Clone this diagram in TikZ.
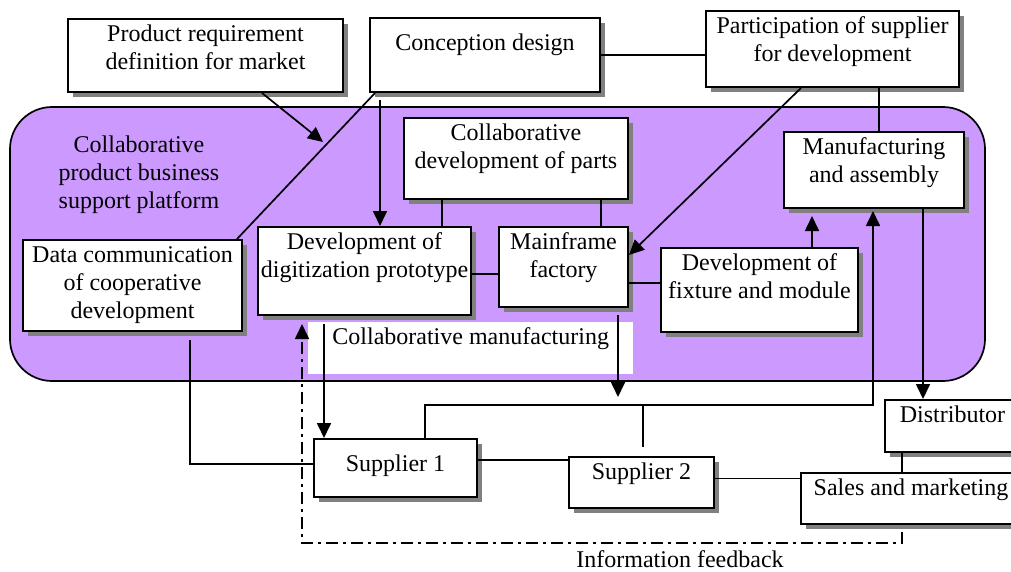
\documentclass[tikz,border=0pt]{standalone}
\usepackage{fontspec}
\setmainfont{Liberation Serif}
\usetikzlibrary{arrows.meta,shadows}
\definecolor{platform}{HTML}{CC99FF}
\newcommand{\boxtxt}[4][2.5pt]{\parbox[c][#3][t]{#2}{\centering\vspace*{#1}\strut#4}}

\begin{document}
\begin{tikzpicture}[x=1pt,y=-1pt,
  every node/.style={font=\fontsize{24}{28}\selectfont},
  box/.style={draw,fill=white,line width=2pt,inner sep=0pt,anchor=north west,
    drop shadow={shadow xshift=5pt,shadow yshift=-5pt,fill=gray,opacity=1}},
  line/.style={line width=1.7pt},
  arr/.style={line width=1.7pt,-{Triangle[length=15pt,width=14pt]}},
  feedback/.style={line width=1.7pt,dash pattern=on 12pt off 5pt on 3pt off 5pt}]
\useasboundingbox (0,0) rectangle (1011,571);

% platform
\draw[line width=1.7pt,fill=platform,rounded corners=42pt] (10,107) rectangle (985,381);
\node[align=center] (platlabel) at (139,175) {Collaborative\\product business\\support platform};
\node[fill=white,inner sep=0pt,anchor=north west] (collmanu) at (308,322) {\boxtxt{325pt}{52pt}{Collaborative manufacturing}};

% boxes
\node[box] (preq) at (67,18) {\boxtxt{275pt}{73pt}{Product requirement\\definition for market}};
\node[box] (concept) at (369,17) {\boxtxt[12.5pt]{230pt}{74pt}{Conception design}};
\node[box] (partic) at (705,10) {\boxtxt{253pt}{76pt}{Participation of supplier\\for development}};
\node[box] (datacomm) at (22,239) {\boxtxt{219pt}{91pt}{Data communication\\of cooperative\\development}};
\node[box] (devproto) at (257,226) {\boxtxt{213pt}{88pt}{Development of\\digitization prototype}};
\node[box] (collparts) at (403,117) {\boxtxt{224pt}{81pt}{Collaborative\\development of parts}};
\node[box] (mainframe) at (498,226) {\boxtxt{129pt}{80pt}{Mainframe\\factory}};
\node[box] (fixture) at (660,247) {\boxtxt{197pt}{84pt}{Development of\\fixture and module}};
\node[box] (manuf) at (783,131) {\boxtxt{180pt}{76pt}{Manufacturing\\and assembly}};
\node[box] (sup1) at (313,438) {\boxtxt[12.5pt]{163pt}{58pt}{Supplier 1}};
\node[box] (sup2) at (568,456) {\boxtxt{145pt}{51pt}{Supplier 2}};
\node[box] (distrib) at (884,399) {\boxtxt{135pt}{52pt}{Distributor}};
\node[box] (sales) at (800,472) {\boxtxt{220pt}{51pt}{Sales and marketing}};
\node (fblabel) at (680,559) {Information feedback};

\coordinate (reqend) at (323,142);
\coordinate (bus) at (873,405);

% connectors
\draw[arr] ([xshift=195pt]preq.south west) -- (reqend);
\draw[line] ([xshift=6pt]concept.south west) -- ([xshift=-6pt]datacomm.north east);
\draw[arr] ([xshift=11pt,yshift=-7pt]concept.south west) -- ([xshift=11pt]concept.south west |- devproto.north);
\draw[line] (concept.east) -- (concept.east -| partic.west);
\draw[arr] ([xshift=96pt]partic.south west) -- ([yshift=-29pt]mainframe.north east);
\draw[line] ([xshift=174pt]partic.south west) -- ([xshift=174pt]partic.south west |- manuf.north);
\draw[line] ([xshift=39pt]collparts.south west) -- ([xshift=39pt]collparts.south west |- devproto.north);
\draw[line] ([xshift=-28pt]collparts.south east) -- ([xshift=-28pt]collparts.south east |- mainframe.north);
\draw[line] ([yshift=-3pt]devproto.east) -- ([yshift=-3pt]devproto.east -| mainframe.west);
\draw[line] ([yshift=-16pt]mainframe.east) -- ([yshift=-16pt]mainframe.east -| fixture.west);
\draw[arr,shorten >=7pt] ([xshift=152pt]fixture.north west) -- ([xshift=152pt]fixture.north west |- manuf.south);
\draw[arr,shorten >=2pt] ([xshift=112pt]sup1.north west) |- (bus) -- (bus |- manuf.south);
\draw[line] ([xshift=75pt]sup2.north west |- bus) -- ([xshift=75pt,yshift=9pt]sup2.north west);
\draw[arr] ([xshift=-11pt,yshift=-7pt]mainframe.south east) -- ([xshift=-11pt,yshift=8pt]mainframe.south east |- bus);
\draw[arr] ([xshift=67pt,yshift=-8pt]devproto.south west) -- ([xshift=67pt]devproto.south west |- sup1.north);
\draw[arr] ([xshift=140pt]manuf.south west) -- ([xshift=140pt]manuf.south west |- distrib.north);
\draw[line] ([xshift=168pt,yshift=-8pt]datacomm.south west) |- ([yshift=4pt]sup1.west);
\draw[line] ([yshift=8pt]sup1.east) -- ([yshift=8pt]sup1.east -| sup2.west);
\draw[line] ([yshift=4pt]sup2.east) -- ([yshift=4pt]sup2.east -| sales.west);
\draw[line] ([xshift=18pt]distrib.south west) -- ([xshift=18pt]distrib.south west |- sales.north);
\draw[feedback,-{Triangle[length=15pt,width=14pt]}] ([xshift=102pt,yshift=-7pt]sales.south west) -- ++(0,11) -| ([xshift=45pt,yshift=-8pt]devproto.south west);
\end{tikzpicture}
\end{document}
